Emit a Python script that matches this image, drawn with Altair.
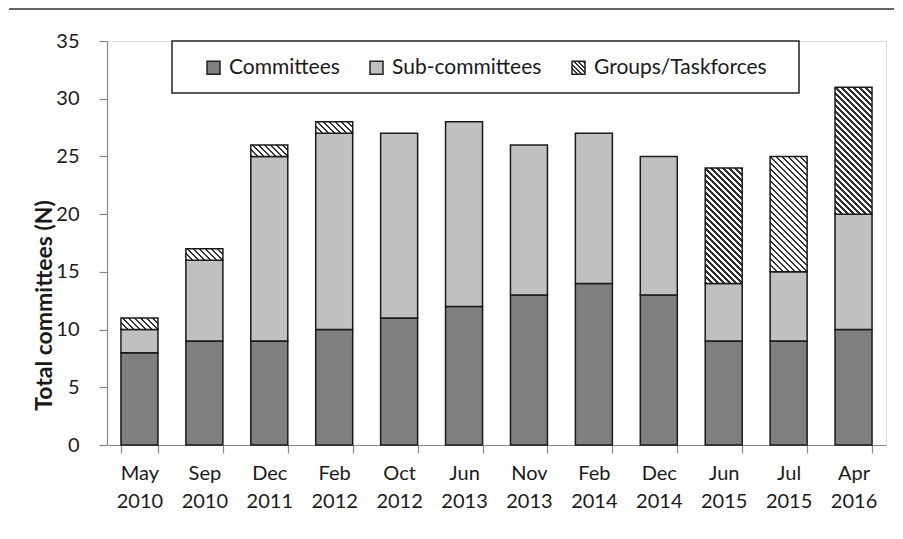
import altair as alt
import pandas as pd

dates = ["May 2010", "Sep 2010", "Dec 2011", "Feb 2012", "Oct 2012", "Jun 2013",
         "Nov 2013", "Feb 2014", "Dec 2014", "Jun 2015", "Jul 2015", "Apr 2016"]
series_names = ["Committees", "Sub-committees", "Groups/Taskforces"]
committees = [8, 9, 9, 10, 11, 12, 13, 14, 13, 9, 9, 10]
subcommittees = [2, 7, 16, 17, 16, 16, 13, 13, 12, 5, 6, 10]
groups = [1, 1, 1, 1, 0, 0, 0, 0, 0, 10, 10, 11]
y_ticks = [0, 5, 10, 15, 20, 25, 30, 35]

rows = []
for i, d in enumerate(dates):
    for k, (name, vals) in enumerate(zip(series_names, [committees, subcommittees, groups])):
        rows.append({"date": d, "series": name, "value": vals[i], "idx": k})
df = pd.DataFrame(rows)

W_PLOT, H_PLOT = 779, 404
YMAX = 35
BAR_W = W_PLOT / len(dates) * 0.57
UNIT = H_PLOT / YMAX
FONT = "Lato"
TXT = "#1a1a1a"


def hatch(W, H, period=6.0, frac=0.38, dark="#303030", light="#ffffff"):
    c = (W + H) * W * H / (W * W + H * H)
    x2 = c / H
    y2 = 1 - c / W
    n = (W + H) / period
    stops = []
    k = 0
    while k < n:
        o0 = k / n
        o1 = min((k + frac) / n, 1.0)
        o2 = min((k + 1) / n, 1.0)
        stops += [{"offset": round(o0, 5), "color": dark},
                  {"offset": round(o1, 5), "color": dark},
                  {"offset": round(o1, 5), "color": light},
                  {"offset": round(o2, 5), "color": light}]
        k += 1
    return {"gradient": "linear", "x1": 0, "y1": 1, "x2": round(x2, 5), "y2": round(y2, 5), "stops": stops}


def grad_expr(g):
    stops = ",".join("{offset:%s,color:'%s'}" % (s["offset"], s["color"]) for s in g["stops"])
    return "{gradient:'linear',x1:%s,y1:%s,x2:%s,y2:%s,stops:[%s]}" % (
        g["x1"], g["y1"], g["x2"], g["y2"], stops)


legend_grad = hatch(13, 13, period=4.5, frac=0.4)

conds = []
for v in sorted(set(g for g in groups if g > 0)):
    conds.append({"test": "datum.series == 'Groups/Taskforces' && datum.value == %d" % v,
                  "value": hatch(BAR_W, v * UNIT)})

fill = alt.Fill(
    "series:N",
    scale=alt.Scale(domain=series_names,
                    range=["#7f7f7f", "#c0c0c0", {"expr": grad_expr(legend_grad)}]),
    legend=alt.Legend(
        title=None, orient="none", direction="horizontal", columns=3,
        legendX=96, legendY=16, symbolType="square", symbolSize=169,
        symbolStrokeColor="#222222", symbolStrokeWidth=1.5,
        labelFont=FONT, labelFontSize=21, labelColor=TXT, labelOffset=5,
        labelLimit=400, columnPadding=26, padding=0,
    ),
    condition=conds,
)

bars = alt.Chart(df).transform_filter("datum.value > 0").mark_bar(
    stroke="#1a1a1a", strokeWidth=1.5
).encode(
    x=alt.X("date:N", sort=dates, title=None,
            scale=alt.Scale(paddingInner=0.43, paddingOuter=0.215),
            axis=alt.Axis(labelExpr="split(datum.label, ' ')", labelAngle=0,
                          labelFont=FONT, labelFontSize=20, labelColor=TXT,
                          labelLineHeight=28, labelPadding=10, labelBaseline="top",
                          tickBand="extent", tickSize=8, tickColor="#888888",
                          domainColor="#888888", domainWidth=1.2, tickWidth=1.2)),
    y=alt.Y("value:Q", stack="zero", title="Total committees (N)",
            scale=alt.Scale(domain=[0, YMAX], nice=False),
            axis=alt.Axis(values=y_ticks, grid=False, tickSize=8, tickColor="#888888",
                          domainColor="#888888", domainWidth=1.2, tickWidth=1.2,
                          labelFont=FONT, labelFontSize=20, labelColor=TXT, labelPadding=20,
                          titleFont=FONT, titleFontSize=23, titleFontWeight="bold",
                          titleColor=TXT, titleX=-63, titleY=264, titleAngle=270,
                          titleAlign="center", titleBaseline="middle")),
    fill=fill,
    order=alt.Order("idx:Q", sort="ascending"),
)

one = pd.DataFrame({"k": [0]})
legend_box = alt.Chart(one).mark_rect(fill="white", stroke="#222222", strokeWidth=1.5).encode(
    x=alt.value(65), x2=alt.value(692), y=alt.value(0), y2=alt.value(52)
)
frame_top = alt.Chart(one).mark_rule(color="#333333", strokeWidth=1.5).encode(
    x=alt.value(-98), x2=alt.value(787), y=alt.value(-32)
)

chart = alt.layer(frame_top, legend_box, bars).properties(
    width=W_PLOT, height=H_PLOT,
    autosize=alt.AutoSizeParams(type="none"),
    padding={"left": 99, "top": 33, "right": 9, "bottom": 86},
).configure_view(stroke=None).configure(background="white")

chart.save("out.html", embed_options={"renderer": "svg", "actions": False})
